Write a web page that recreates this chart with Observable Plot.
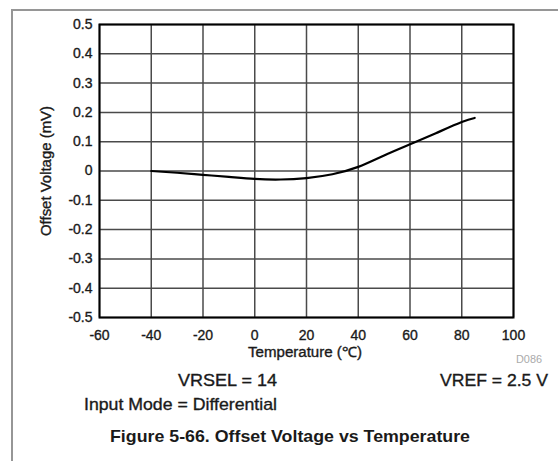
<!DOCTYPE html>
<html>
<head>
<meta charset="utf-8">
<script src="https://cdn.jsdelivr.net/npm/d3@7"></script>
<script src="https://cdn.jsdelivr.net/npm/@observablehq/plot@0.6"></script>
<style>
  html, body { margin: 0; padding: 0; background: #fff; }
  #page { position: relative; width: 558px; height: 461px; overflow: hidden; background: #fff; }
  #edge { position: absolute; left: 11px; top: 9px; right: 0; bottom: -4px;
          border-top: 2px solid #969696; border-left: 2px solid #969696; }
  #chart { position: absolute; left: 0; top: 0; }
  #chart svg { display: block; background: transparent; }
  /* slightly heavier glyphs for the dark labels */
  #chart svg text.heavy, #chart svg g[aria-label$="tick label"] text {
    stroke: #1a1a1a; stroke-width: 0.35px; paint-order: stroke;
  }
</style>
</head>
<body>
<div id="page">
  <div id="edge"></div>
  <div id="chart"></div>
</div>
<script>
// Offset voltage (mV) measured across temperature (°C)
const temperature = [-40, -30, -20, -10, 0, 10, 20, 30, 40, 50, 60, 70, 80, 85];
const offsetMv = [0.000, -0.006, -0.013, -0.020, -0.027, -0.029, -0.024, -0.011, 0.014, 0.053, 0.091, 0.129, 0.167, 0.181];

// Axis ticks
const xTicks = [-60, -40, -20, 0, 20, 40, 60, 80, 100];
const yTicks = [-0.5, -0.4, -0.3, -0.2, -0.1, 0, 0.1, 0.2, 0.3, 0.4, 0.5];

// Text around the chart
const xTitle = "Temperature (\u2103)";
const yTitle = "Offset Voltage (mV)";
const codeTag = "D086";
const conditionLeft = "VRSEL = 14";
const conditionRight = "VREF = 2.5 V";
const conditionMode = "Input Mode = Differential";
const figureTitle = "Figure 5-66. Offset Voltage vs Temperature";

const points = temperature.map((t, i) => ({t, v: offsetMv[i]}));
const font = "'Liberation Sans', Arial, sans-serif";

const chart = Plot.plot({
  width: 558,
  height: 461,
  marginLeft: 99,
  marginRight: 45,
  marginTop: 24,
  marginBottom: 144,
  style: {fontFamily: font, fontSize: "14px", color: "#1a1a1a", background: "transparent"},
  x: {domain: [-60, 100]},
  y: {domain: [-0.5, 0.5]},
  marks: [
    Plot.ruleX(xTicks, {stroke: "#4a4a4a", strokeWidth: 1.5}),
    Plot.ruleY(yTicks, {stroke: "#4a4a4a", strokeWidth: 1.5}),
    Plot.frame({stroke: "#000", strokeWidth: 2}),
    Plot.line(points, {x: "t", y: "v", curve: "natural", stroke: "#000", strokeWidth: 2.2}),
    Plot.axisX({ticks: xTicks, tickSize: 0, tickPadding: 13, label: null,
                tickFormat: d => String(d)}),
    Plot.axisY({ticks: yTicks, tickSize: 0, tickPadding: 7, label: null,
                tickFormat: d => d === 0 ? "0" : d.toFixed(1)})
  ]
});

document.getElementById("chart").appendChild(chart);

// Axis titles, conditions and figure caption
const svg = d3.select(chart);
const notes = svg.append("g").attr("font-family", font).attr("fill", "#1a1a1a");

function note(str, x, y, size, anchor, len, extra = {}) {
  const t = notes.append("text")
    .attr("class", "heavy")
    .attr("x", x).attr("y", y)
    .attr("font-size", size)
    .attr("text-anchor", anchor)
    .attr("textLength", len)
    .attr("lengthAdjust", "spacingAndGlyphs")
    .text(str);
  for (const k in extra) t.attr(k, extra[k]);
  return t;
}

notes.append("text")
  .attr("class", "heavy")
  .attr("transform", "translate(51,171) rotate(-90)")
  .attr("font-size", 14)
  .attr("text-anchor", "middle")
  .attr("textLength", 130)
  .attr("lengthAdjust", "spacingAndGlyphs")
  .text(yTitle);

note(xTitle, 305, 357, 14, "middle", 114);
note(codeTag, 516, 363, 10, "start", 26, {fill: "#aaaaaa", class: null});
note(conditionLeft, 277, 386, 17, "end", 99);
note(conditionRight, 440, 386, 17, "start", 108);
note(conditionMode, 84, 410, 17, "start", 193);
note(figureTitle, 110, 442, 17, "start", 360, {"font-weight": "bold", class: null});
</script>
</body>
</html>
